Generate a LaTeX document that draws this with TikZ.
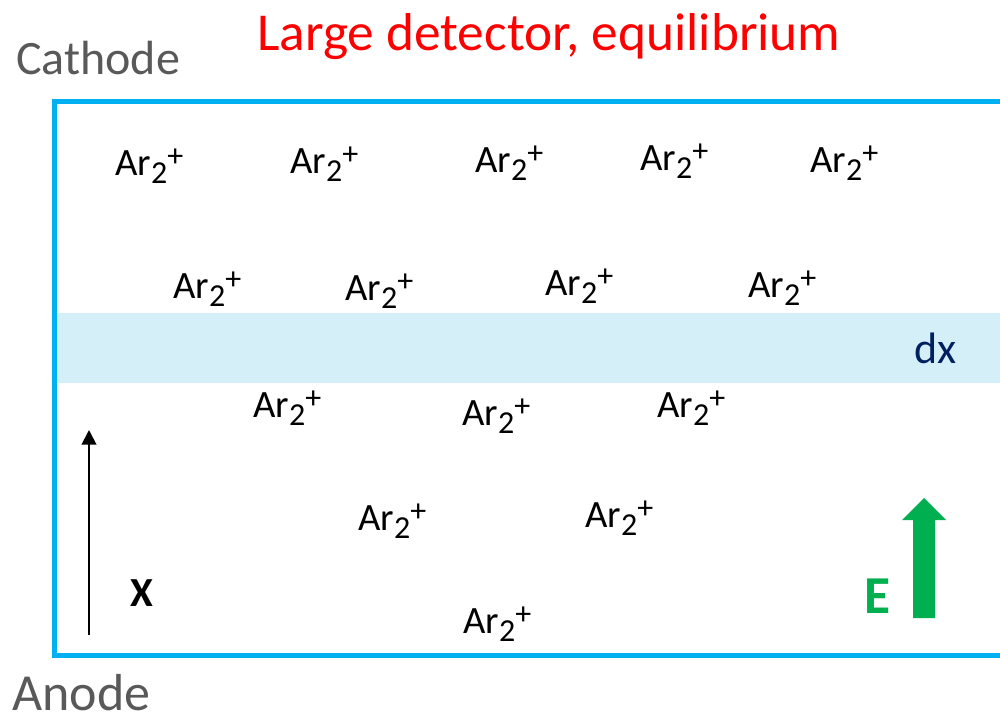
\documentclass[tikz,border=0pt]{standalone}
\usepackage{fontspec}
\setmainfont{Carlito}
\usetikzlibrary{arrows.meta}
\definecolor{boxblue}{RGB}{0,176,240}
\definecolor{bandblue}{RGB}{213,239,249}
\definecolor{dxnavy}{RGB}{0,32,96}
\definecolor{egreen}{RGB}{0,176,80}
\definecolor{electrode}{RGB}{89,89,89}
\newcommand{\argon}{Ar\raisebox{-0.21em}{\fontsize{24}{29}\selectfont 2}\raisebox{0.22em}{\fontsize{24}{29}\selectfont +}}
\tikzset{ion/.style={anchor=base west, inner sep=0pt, font=\fontsize{29}{35}\selectfont}}

\begin{document}
\begin{tikzpicture}[x=0.75pt, y=-0.75pt]
			\useasboundingbox (0,0) rectangle (1000,721);
			\fill[bandblue] (56,313) rectangle (1000,383);
			\draw[boxblue, line width=3.75pt] (1000,101) -- (54,101) -- (54,655) -- (1000,655);
			\node[anchor=base west, inner sep=0pt, red, font=\fontsize{40}{48}\selectfont] (title) at (257,50){Large detector, equilibrium};
			\node[anchor=base west, inner sep=0pt, electrode, font=\fontsize{36}{43}\selectfont] (cathode) at (16,74){Cathode};
			\node[anchor=base west, inner sep=0pt, electrode, font=\fontsize{39}{47}\selectfont] (anode) at (12,710){Anode};
			\node[anchor=base west, inner sep=0pt, dxnavy, font=\fontsize{33}{40}\selectfont] (dx) at (914,363){dx};
			\node[ion] (ar1) at (115,175){\argon};
			\node[ion] (ar2) at (290,173){\argon};
			\node[ion] (ar3) at (475,172){\argon};
			\node[ion] (ar4) at (640,170){\argon};
			\node[ion] (ar5) at (810,172){\argon};
			\node[ion] (ar6) at (173,298){\argon};
			\node[ion] (ar7) at (345,300){\argon};
			\node[ion] (ar8) at (545,295){\argon};
			\node[ion] (ar9) at (748,297){\argon};
			\node[ion] (ar10) at (253,417){\argon};
			\node[ion] (ar11) at (462,425){\argon};
			\node[ion] (ar12) at (657,417){\argon};
			\node[ion] (ar13) at (358,530){\argon};
			\node[ion] (ar14) at (585,527){\argon};
			\node[ion] (ar15) at (463,633){\argon};
			\node[anchor=base west, inner sep=0pt, font=\bfseries\fontsize{31}{37}\selectfont] (xlabel) at (130,606){X};
			\node[anchor=base west, inner sep=0pt, egreen, font=\bfseries\fontsize{40}{48}\selectfont] (efield) at (864,613){E};
			\coordinate (xtail) at (89,635);
			\coordinate (xhead) at (89,430);
			\draw[-{Triangle[width=11pt, length=11pt]}, line width=1.5pt] (xtail) -- (xhead);
			\fill[egreen] (913,618) -- (935,618) -- (935,520) -- (946,520) -- (924,498) -- (902,520) -- (913,520) -- cycle;
		\end{tikzpicture}
\end{document}
